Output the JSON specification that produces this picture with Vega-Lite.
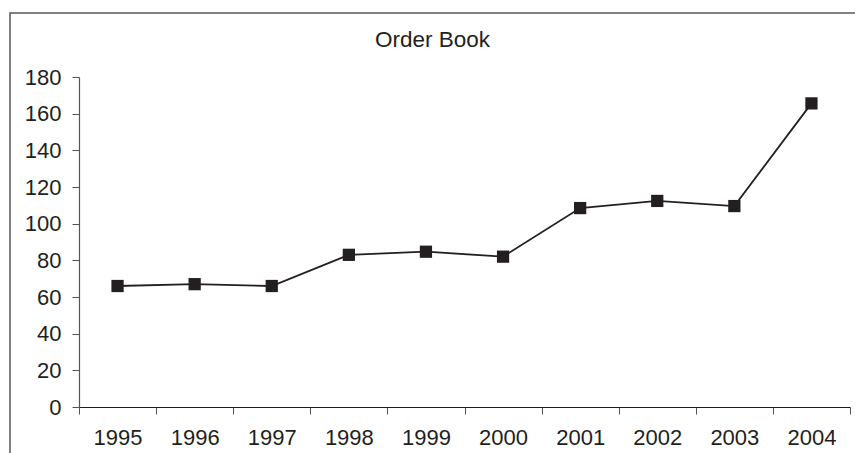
{
  "$schema": "https://vega.github.io/schema/vega-lite/v6.json",
  "width": 845,
  "height": 440,
  "autosize": {"type": "none"},
  "padding": {"left": 10, "top": 13, "right": 0, "bottom": 0},
  "background": "white",
  "config": {
    "view": {"stroke": "#555555", "strokeWidth": 1.5, "strokeDash": [845, 1285, 440, 1]},
    "font": "Liberation Sans"
  },
  "title": {
    "text": "Order Book",
    "fontSize": 22.5,
    "fontWeight": "normal",
    "color": "#231f20",
    "font": "Liberation Sans",
    "anchor": "middle",
    "frame": "group",
    "baseline": "alphabetic",
    "offset": -56,
    "dx": 0
  },
  "data": {
    "values": [
      {"year": "1995", "value": 66},
      {"year": "1996", "value": 67},
      {"year": "1997", "value": 66},
      {"year": "1998", "value": 83},
      {"year": "1999", "value": 84.7},
      {"year": "2000", "value": 82},
      {"year": "2001", "value": 108.5},
      {"year": "2002", "value": 112.4},
      {"year": "2003", "value": 109.6},
      {"year": "2004", "value": 165.6}
    ]
  },
  "encoding": {
    "x": {
      "field": "year",
      "type": "ordinal",
      "scale": {"type": "band", "range": [69, 840], "paddingInner": 0, "paddingOuter": 0},
      "axis": {
        "title": null,
        "labelAngle": 0,
        "offset": -46,
        "tickBand": "extent",
        "domainColor": "#231f20",
        "domainWidth": 1.2,
        "tickColor": "#555555",
        "tickSize": 7,
        "labelFontSize": 22,
        "labelColor": "#231f20",
        "labelPadding": 13,
        "labelFont": "Liberation Sans"
      }
    },
    "y": {
      "field": "value",
      "type": "quantitative",
      "scale": {"domain": [0, 180], "range": [394, 64], "nice": false, "zero": true},
      "axis": {
        "title": null,
        "values": [0, 20, 40, 60, 80, 100, 120, 140, 160, 180],
        "offset": -69,
        "grid": false,
        "domainColor": "#555555",
        "domainWidth": 1.2,
        "tickColor": "#555555",
        "tickSize": 7,
        "labelFontSize": 22,
        "labelColor": "#231f20",
        "labelPadding": 11,
        "labelFont": "Liberation Sans"
      }
    }
  },
  "layer": [
    {"mark": {"type": "line", "color": "#231f20", "strokeWidth": 1.8}},
    {"mark": {"type": "point", "shape": "square", "filled": true, "size": 150, "color": "#231f20", "opacity": 1}}
  ]
}
